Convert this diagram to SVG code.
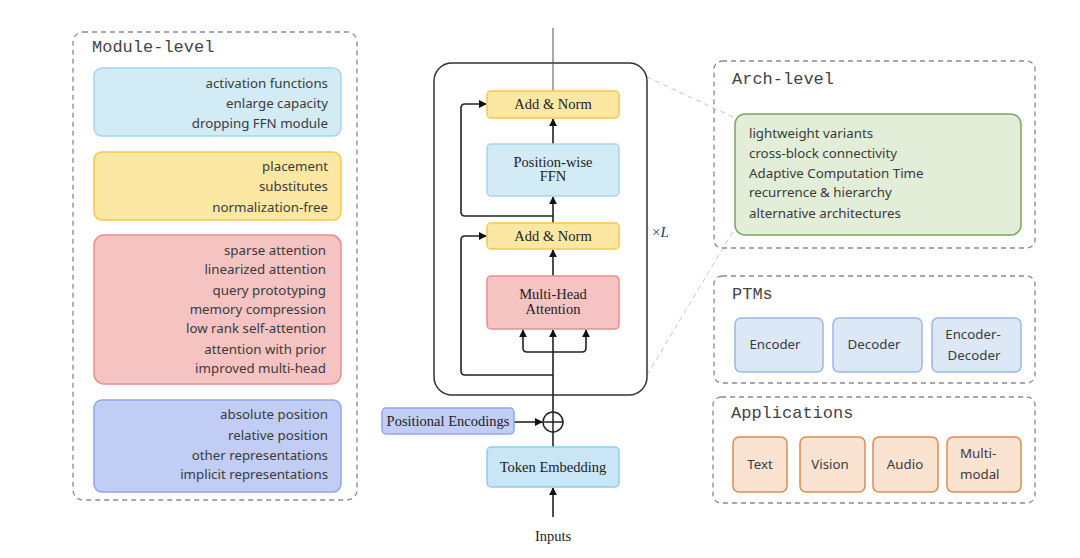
<svg xmlns="http://www.w3.org/2000/svg" width="1080" height="558" viewBox="0 0 1080 558">
<defs>
<marker id="arr" viewBox="0 0 10 10" refX="9" refY="5" markerWidth="8" markerHeight="8" markerUnits="userSpaceOnUse" orient="auto-start-reverse">
<path d="M0,0 L10,5 L0,10 z" fill="#111"/>
</marker>
<style>
.dash{fill:none;stroke:#8a8a8a;stroke-width:1.3;stroke-dasharray:5,4}
.mono{font-family:"Liberation Mono","DejaVu Sans Mono",monospace;font-size:17px;fill:#444}
.sans{font-family:"Noto Sans","DejaVu Sans",sans-serif;font-size:13.3px;fill:#3a3a3a}
.serif{font-family:"Liberation Serif","Times New Roman",serif;font-size:14.5px;fill:#222;text-anchor:middle}
.r{text-anchor:end}
.c{text-anchor:middle}
.line{fill:none;stroke:#222;stroke-width:1.6}
.blue{fill:#d3ebf5;stroke:#a5d5ef;stroke-width:1.5}
.yel{fill:#fde8a3;stroke:#f5c84a;stroke-width:1.5}
.red{fill:#f6c3c3;stroke:#ee8c8c;stroke-width:1.5}
.pur{fill:#c1cdf5;stroke:#8fa6ee;stroke-width:1.5}
.grn{fill:#e2eed8;stroke:#7da55c;stroke-width:1.5}
.ptm{fill:#dce8f6;stroke:#9cb7e0;stroke-width:1.5}
.app{fill:#fbe3d2;stroke:#e08a4e;stroke-width:1.5}
.tok{fill:#c8e6f6;stroke:#8fcdee;stroke-width:1.5}
</style>
</defs>
<rect width="1080" height="558" fill="#fff"/>

<!-- zoom dashed lines -->
<g id="zoom-lines">
<line x1="647" y1="77" x2="735" y2="118" stroke="#c8c8c8" stroke-width="1" stroke-dasharray="5,4"/>
<line x1="647" y1="375" x2="735" y2="228" stroke="#c8c8c8" stroke-width="1" stroke-dasharray="5,4"/>
</g>

<!-- Module-level -->
<g id="module-level">
<rect class="dash" x="73" y="32" width="284" height="468" rx="10"/>
<text class="mono" x="92" y="52">Module-level</text>
<g id="ffn-box">
<rect class="blue" x="94" y="68" width="247" height="68" rx="8"/>
<text class="sans r" x="328" y="88">activation functions</text>
<text class="sans r" x="328" y="108">enlarge capacity</text>
<text class="sans r" x="328" y="128">dropping FFN module</text>
</g>
<g id="norm-box">
<rect class="yel" x="94" y="152" width="247" height="68" rx="8"/>
<text class="sans r" x="328" y="171">placement</text>
<text class="sans r" x="328" y="191">substitutes</text>
<text class="sans r" x="328" y="212">normalization-free</text>
</g>
<g id="attn-box">
<rect class="red" x="94" y="235" width="247" height="149" rx="10"/>
<text class="sans r" x="326" y="255">sparse attention</text>
<text class="sans r" x="326" y="274">linearized attention</text>
<text class="sans r" x="326" y="295">query prototyping</text>
<text class="sans r" x="326" y="314">memory compression</text>
<text class="sans r" x="326" y="333">low rank self-attention</text>
<text class="sans r" x="326" y="354">attention with prior</text>
<text class="sans r" x="326" y="373">improved multi-head</text>
</g>
<g id="pos-box">
<rect class="pur" x="94" y="400" width="247" height="92" rx="8"/>
<text class="sans r" x="328" y="419">absolute position</text>
<text class="sans r" x="328" y="440">relative position</text>
<text class="sans r" x="328" y="460">other representations</text>
<text class="sans r" x="328" y="479">implicit representations</text>
</g>
</g>

<!-- Center transformer -->
<g id="block">
<rect x="434" y="63" width="213" height="332" rx="18" fill="none" stroke="#333" stroke-width="1.5"/>
<text x="652" y="237" font-family="Liberation Serif,serif" font-size="15" fill="#2a3a7a">×<tspan font-style="italic">L</tspan></text>
</g>

<g id="connectors">
<line x1="553" y1="28" x2="553" y2="91" stroke="#555" stroke-width="1"/>
<line class="line" x1="553" y1="144" x2="553" y2="119" marker-end="url(#arr)"/>
<line class="line" x1="553" y1="223" x2="553" y2="197" marker-end="url(#arr)"/>
<path class="line" d="M553,216 H465 Q461,216 461,212 V108 Q461,104 465,104 H486" marker-end="url(#arr)"/>
<line class="line" x1="553" y1="276" x2="553" y2="250" marker-end="url(#arr)"/>
<path class="line" d="M553,375 H465 Q461,375 461,371 V240 Q461,236 465,236 H486" marker-end="url(#arr)"/>
<line class="line" x1="553" y1="412" x2="553" y2="330" marker-end="url(#arr)"/>
<path class="line" d="M523,330 V348 Q523,352 527,352 H582 Q586,352 586,348 V330" marker-start="url(#arr)" marker-end="url(#arr)"/>
<line class="line" x1="514" y1="422" x2="542" y2="422" marker-end="url(#arr)"/>
<line class="line" x1="553" y1="447" x2="553" y2="432"/>
<line class="line" x1="553" y1="517" x2="553" y2="488" marker-end="url(#arr)"/>
</g>

<g id="add-norm-top">
<rect class="yel" x="487" y="91" width="132" height="27" rx="4"/>
<text class="serif" x="553" y="109">Add &amp; Norm</text>
</g>
<g id="ffn">
<rect class="blue" x="487" y="144" width="132" height="52" rx="4"/>
<text class="serif" x="553" y="167">Position-wise</text>
<text class="serif" x="553" y="181">FFN</text>
</g>
<g id="add-norm-bottom">
<rect class="yel" x="487" y="223" width="132" height="26" rx="4"/>
<text class="serif" x="553" y="241">Add &amp; Norm</text>
</g>
<g id="mha">
<rect class="red" x="487" y="276" width="132" height="53" rx="4"/>
<text class="serif" x="553" y="299">Multi-Head</text>
<text class="serif" x="553" y="314">Attention</text>
</g>
<g id="plus">
<circle cx="553" cy="422" r="10" fill="#fff" stroke="#222" stroke-width="1.5"/>
<line x1="543" y1="422" x2="563" y2="422" stroke="#222" stroke-width="1.5"/>
<line x1="553" y1="412" x2="553" y2="432" stroke="#222" stroke-width="1.5"/>
</g>
<g id="pos-enc">
<rect class="pur" x="382" y="408" width="132" height="26" rx="4"/>
<text class="serif" x="448" y="425.5">Positional Encodings</text>
</g>
<g id="token-emb">
<rect class="tok" x="487" y="447" width="132" height="40" rx="4"/>
<text class="serif" x="553" y="472">Token Embedding</text>
</g>
<g id="inputs">
<text class="serif" x="553" y="541" font-size="13.5">Inputs</text>
</g>

<!-- Arch-level -->
<g id="arch-level">
<rect class="dash" x="714" y="61" width="321" height="187" rx="8"/>
<text class="mono" x="732" y="84">Arch-level</text>
<rect class="grn" x="735" y="114" width="286" height="121" rx="10"/>
<text class="sans" x="749" y="138">lightweight variants</text>
<text class="sans" x="749" y="158">cross-block connectivity</text>
<text class="sans" x="749" y="178">Adaptive Computation Time</text>
<text class="sans" x="749" y="197">recurrence &amp; hierarchy</text>
<text class="sans" x="749" y="218">alternative architectures</text>
</g>

<!-- PTMs -->
<g id="ptms">
<rect class="dash" x="714" y="276" width="321" height="107" rx="8"/>
<text class="mono" x="732" y="299">PTMs</text>
<rect class="ptm" x="735" y="318" width="88" height="54" rx="6"/>
<text class="sans c" x="775" y="349" font-size="14">Encoder</text>
<rect class="ptm" x="833" y="318" width="89" height="54" rx="6"/>
<text class="sans c" x="874" y="349" font-size="14">Decoder</text>
<rect class="ptm" x="932" y="318" width="89" height="54" rx="6"/>
<text class="sans c" x="973" y="339" font-size="14">Encoder-</text>
<text class="sans c" x="974" y="360" font-size="14">Decoder</text>
</g>

<!-- Applications -->
<g id="applications">
<rect class="dash" x="713" y="397" width="322" height="106" rx="8"/>
<text class="mono" x="731" y="418">Applications</text>
<rect class="app" x="733" y="437" width="54" height="55" rx="6"/>
<text class="sans c" x="760" y="469">Text</text>
<rect class="app" x="800" y="437" width="65" height="55" rx="6"/>
<text class="sans c" x="830" y="469">Vision</text>
<rect class="app" x="873" y="437" width="65" height="55" rx="6"/>
<text class="sans c" x="905" y="469">Audio</text>
<rect class="app" x="947" y="437" width="74" height="55" rx="6"/>
<text class="sans" x="960" y="458">Multi-</text>
<text class="sans" x="960" y="479">modal</text>
</g>
</svg>
